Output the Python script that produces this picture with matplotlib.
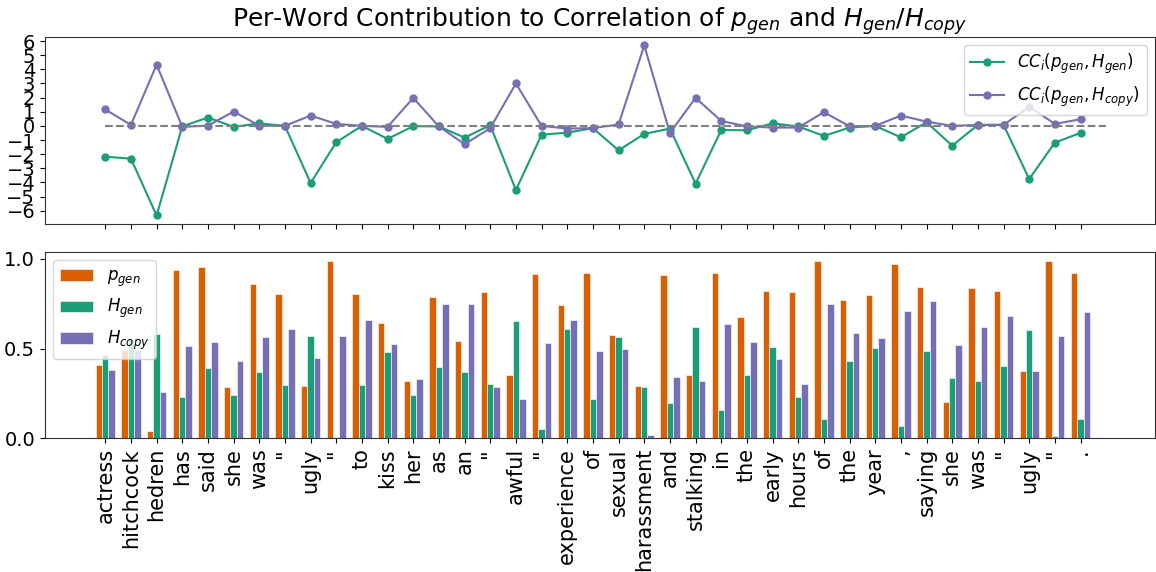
import numpy as np
import matplotlib
matplotlib.use('Agg')
import matplotlib.pyplot as plt

words = ['actress', 'hitchcock', 'hedren', 'has', 'said', 'she', 'was', '"',
         'ugly', '"', 'to', 'kiss', 'her', 'as', 'an', '"', 'awful', '"',
         'experience', 'of', 'sexual', 'harassment', 'and', 'stalking', 'in',
         'the', 'early', 'hours', 'of', 'the', 'year', ',', 'saying', 'she',
         'was', '"', 'ugly', '"', '.']

# per-word contribution to correlation
cc_gen = [-2.18, -2.32, -6.34, -0.03, 0.59, -0.07, 0.18, 0.0, -4.04, -1.16,
          0.0, -0.92, -0.02, -0.04, -0.83, 0.05, -4.54, -0.62, -0.48, -0.16,
          -1.73, -0.57, -0.19, -4.09, -0.29, -0.31, 0.18, -0.04, -0.71, -0.12,
          0.0, -0.81, 0.26, -1.40, 0.07, 0.07, -3.76, -1.18, -0.50]
cc_copy = [1.16, 0.07, 4.33, -0.07, 0.02, 1.01, 0.02, 0.0, 0.73, 0.14,
           0.0, -0.07, 1.98, -0.04, -1.30, -0.16, 3.00, 0.0, -0.19, -0.16,
           0.10, 5.69, -0.50, 1.98, 0.35, -0.04, -0.12, -0.12, 0.97, -0.03,
           0.0, 0.73, 0.30, 0.0, 0.07, 0.07, 1.35, 0.14, 0.47]

# per-word values
p_gen = [0.407, 0.49, 0.04, 0.935, 0.955, 0.285, 0.859, 0.805, 0.292, 0.985,
         0.805, 0.644, 0.318, 0.787, 0.544, 0.817, 0.35, 0.917, 0.744, 0.922,
         0.576, 0.29, 0.909, 0.353, 0.922, 0.678, 0.822, 0.813, 0.989, 0.77,
         0.796, 0.972, 0.841, 0.205, 0.837, 0.82, 0.374, 0.989, 0.922]
h_gen = [0.463, 0.555, 0.583, 0.229, 0.39, 0.244, 0.368, 0.298, 0.568, 0.005,
         0.298, 0.478, 0.244, 0.396, 0.367, 0.3, 0.652, 0.053, 0.611, 0.218,
         0.567, 0.285, 0.194, 0.618, 0.159, 0.353, 0.509, 0.231, 0.105, 0.433,
         0.505, 0.068, 0.489, 0.337, 0.318, 0.4, 0.605, 0.011, 0.109]
h_copy = [0.383, 0.49, 0.259, 0.513, 0.539, 0.429, 0.563, 0.611, 0.45, 0.568,
          0.661, 0.526, 0.333, 0.75, 0.746, 0.285, 0.218, 0.529, 0.657, 0.485,
          0.496, 0.017, 0.344, 0.317, 0.635, 0.539, 0.439, 0.302, 0.746, 0.585,
          0.561, 0.707, 0.767, 0.517, 0.622, 0.681, 0.374, 0.568, 0.702]

c_orange = '#d95f02'
c_green = '#1b9e77'
c_purple = '#7570b3'

fig = plt.figure(figsize=(11.56, 5.72), dpi=100)
ax1 = fig.add_axes([0.0389, 0.6084, 0.9602, 0.327])
ax2 = fig.add_axes([0.0389, 0.2337, 0.9602, 0.326])

x = np.arange(len(words))

ax1.plot(x, cc_gen, '-o', color=c_green, markersize=5,
         label='$CC_i(p_{gen}, H_{gen})$')
ax1.plot(x, cc_copy, '-o', color=c_purple, markersize=5,
         label='$CC_i(p_{gen}, H_{copy})$')
ax1.plot([0, len(words)], [0, 0], '--', color='gray')
ax1.set_yticks(range(-6, 7))
ax1.set_xticks(x)
ax1.set_xticklabels([])
ax1.tick_params(labelsize=14)
ax1.legend(loc='upper right', fontsize=12)
ax1.set_title('Per-Word Contribution to Correlation of $p_{gen}$ and $H_{gen}/H_{copy}$',
              fontsize=18)

w = 0.25
ax2.bar(x - w, p_gen, w, color=c_orange, edgecolor='white', linewidth=0.4,
        label='$p_{gen}$')
ax2.bar(x, h_gen, w, color=c_green, edgecolor='white', linewidth=0.4,
        label='$H_{gen}$')
ax2.bar(x + w, h_copy, w, color=c_purple, edgecolor='white', linewidth=0.4,
        label='$H_{copy}$')
ax2.set_xticks(x)
ax2.set_xticklabels(words, rotation=90, fontsize=15)
ax2.tick_params(axis='y', labelsize=14)
ax2.legend(loc='upper left', fontsize=12)

for ax in (ax1, ax2):
    ax.set_xlim(-2.35, 40.9)
    for s in ax.spines.values():
        s.set_color('#333333')

fig.savefig('out.png', dpi=100)
